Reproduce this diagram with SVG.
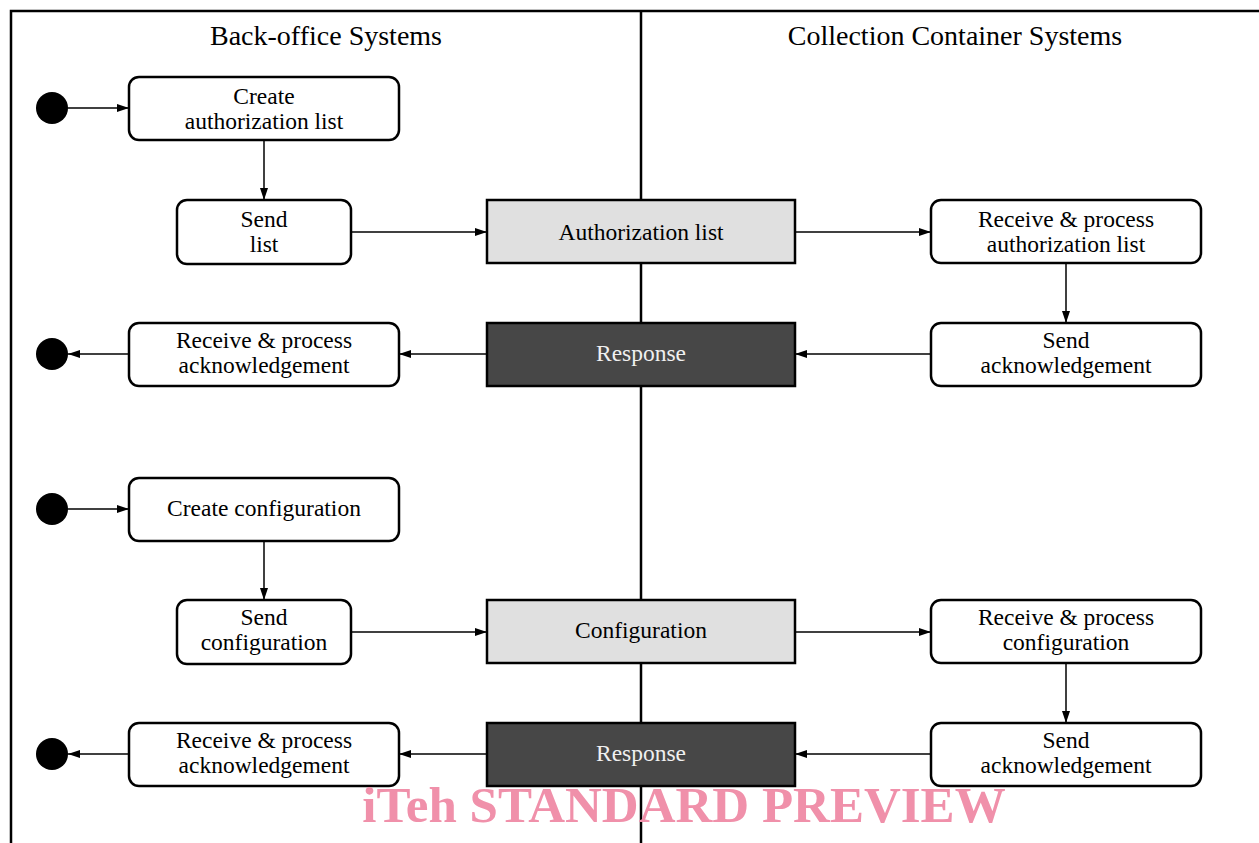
<svg xmlns="http://www.w3.org/2000/svg" width="1259" height="843" viewBox="0 0 1259 843">
<style>
.t{font-family:"Liberation Serif","Times New Roman",serif;font-size:23.5px;fill:#000;text-anchor:middle}
.h{font-size:28px}
.act{fill:#fff;stroke:#000;stroke-width:2.5}
.obj{fill:#e0e0e0;stroke:#000;stroke-width:2.5}
.dark{fill:#474747;stroke:#000;stroke-width:2.5}
.w{fill:#f0f0f0}
.c{stroke:#000;stroke-width:1.5;fill:none;marker-end:url(#a)}
.dot{fill:#000}
.wm{font-family:"Liberation Serif","Times New Roman",serif;font-weight:bold;font-size:51px;fill:#f090aa;text-anchor:middle}
</style>
<defs>
<marker id="a" viewBox="0 0 12 8" refX="12" refY="4" markerWidth="12" markerHeight="8" markerUnits="userSpaceOnUse" orient="auto">
<path d="M0,0 L12,4 L0,8 z" fill="#000"/>
</marker>
</defs>
<rect width="1259" height="843" fill="#fff"/>
<g id="frame" stroke="#000" stroke-width="2.5" fill="none">
<path d="M11,843 V11 H1259"/>
<path d="M641,11 V843"/>
</g>
<text class="t h" x="326" y="45">Back-office Systems</text>
<text class="t h" x="955" y="45">Collection Container Systems</text>
<g id="connectors">
<path class="c" d="M68,108 H129"/>
<path class="c" d="M264,140 V200"/>
<path class="c" d="M351,232 H487"/>
<path class="c" d="M795,232 H931"/>
<path class="c" d="M1066,263 V323"/>
<path class="c" d="M931,354 H795"/>
<path class="c" d="M487,354 H399"/>
<path class="c" d="M129,354 H68"/>
<path class="c" d="M68,509 H129"/>
<path class="c" d="M264,541 V600"/>
<path class="c" d="M351,632 H487"/>
<path class="c" d="M795,632 H931"/>
<path class="c" d="M1066,663 V723"/>
<path class="c" d="M931,754 H795"/>
<path class="c" d="M487,754 H399"/>
<path class="c" d="M129,754 H68"/>
</g>
<g id="start1"><circle class="dot" cx="52" cy="108" r="16"/></g>
<g id="createAuth"><rect class="act" x="129" y="77" width="270" height="63" rx="10"/><text class="t" x="264" y="104">Create</text><text class="t" x="264" y="129">authorization list</text></g>
<g id="sendList"><rect class="act" x="177" y="200" width="174" height="64" rx="10"/><text class="t" x="264" y="227">Send</text><text class="t" x="264" y="252">list</text></g>
<g id="authList"><rect class="obj" x="487" y="200" width="308" height="63"/><text class="t" x="641" y="240">Authorization list</text></g>
<g id="recvAuth"><rect class="act" x="931" y="200" width="270" height="63" rx="10"/><text class="t" x="1066" y="227">Receive &amp; process</text><text class="t" x="1066" y="252">authorization list</text></g>
<g id="sendAck1"><rect class="act" x="931" y="323" width="270" height="63" rx="10"/><text class="t" x="1066" y="348">Send</text><text class="t" x="1066" y="373">acknowledgement</text></g>
<g id="response1"><rect class="dark" x="487" y="323" width="308" height="63"/><text class="t w" x="641" y="361">Response</text></g>
<g id="recvAck1"><rect class="act" x="129" y="323" width="270" height="63" rx="10"/><text class="t" x="264" y="348">Receive &amp; process</text><text class="t" x="264" y="373">acknowledgement</text></g>
<g id="end1"><circle class="dot" cx="52" cy="354" r="16"/></g>
<g id="start2"><circle class="dot" cx="52" cy="509" r="16"/></g>
<g id="createConf"><rect class="act" x="129" y="478" width="270" height="63" rx="10"/><text class="t" x="264" y="516">Create configuration</text></g>
<g id="sendConf"><rect class="act" x="177" y="600" width="174" height="64" rx="10"/><text class="t" x="264" y="625">Send</text><text class="t" x="264" y="650">configuration</text></g>
<g id="config"><rect class="obj" x="487" y="600" width="308" height="63"/><text class="t" x="641" y="638">Configuration</text></g>
<g id="recvConf"><rect class="act" x="931" y="600" width="270" height="63" rx="10"/><text class="t" x="1066" y="625">Receive &amp; process</text><text class="t" x="1066" y="650">configuration</text></g>
<g id="sendAck2"><rect class="act" x="931" y="723" width="270" height="63" rx="10"/><text class="t" x="1066" y="748">Send</text><text class="t" x="1066" y="773">acknowledgement</text></g>
<g id="response2"><rect class="dark" x="487" y="723" width="308" height="63"/><text class="t w" x="641" y="761">Response</text></g>
<g id="recvAck2"><rect class="act" x="129" y="723" width="270" height="63" rx="10"/><text class="t" x="264" y="748">Receive &amp; process</text><text class="t" x="264" y="773">acknowledgement</text></g>
<g id="end2"><circle class="dot" cx="52" cy="754" r="16"/></g>
<text class="wm" x="684" y="822">iTeh STANDARD PREVIEW</text>
</svg>
